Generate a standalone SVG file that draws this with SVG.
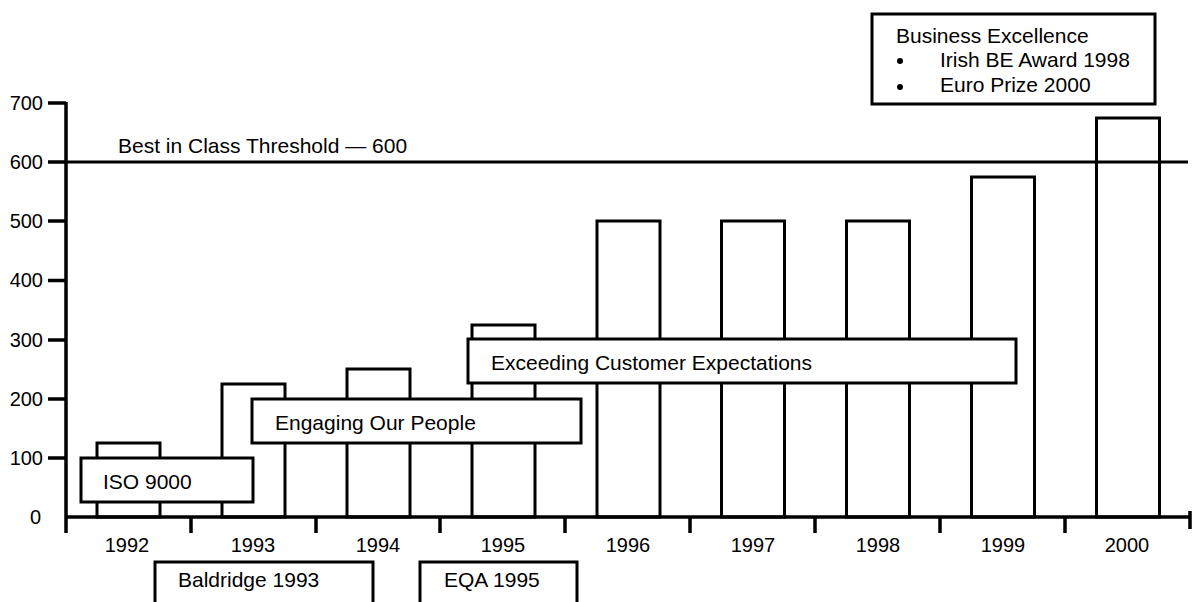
<svg xmlns="http://www.w3.org/2000/svg" width="1192" height="602" viewBox="0 0 1192 602">
<style>
  text { font-family: "Liberation Sans", Arial, sans-serif; fill: #000; }
  .lbl { font-size: 21px; }
  .num { font-size: 20px; }
  .yr { font-size: 20px; text-anchor: middle; }
  .ax { font-size: 20px; text-anchor: end; }
  .bar { fill: #fff; stroke: #000; stroke-width: 3; }
  .box { fill: #fff; stroke: #000; stroke-width: 3; }
  .axis { stroke: #000; stroke-width: 3.5; fill: none; }
  .thr { stroke: #000; stroke-width: 3; }
</style>
<rect width="1192" height="602" fill="#fff"/>
<g id="bars">
  <rect class="bar" x="97" y="443" width="63" height="74"/>
  <rect class="bar" x="222" y="384" width="63" height="133"/>
  <rect class="bar" x="347" y="369" width="63" height="148"/>
  <rect class="bar" x="472" y="325" width="63" height="192"/>
  <rect class="bar" x="597" y="221" width="63" height="296"/>
  <rect class="bar" x="721.5" y="221" width="63" height="296"/>
  <rect class="bar" x="846.5" y="221" width="63" height="296"/>
  <rect class="bar" x="971.5" y="177" width="63" height="340"/>
  <rect class="bar" x="1096.5" y="118" width="63" height="399"/>
</g>
<g id="threshold">
  <line class="thr" x1="66" y1="162" x2="1188" y2="162"/>
  <text class="lbl" x="118" y="153">Best in Class Threshold — 600</text>
</g>
<g id="axes">
  <path class="axis" d="M66 102 V533 M66 517 H1190 M1190 511 V529"/>
  <path class="axis" d="M48 103 H66 M48 162 H66 M48 221 H66 M48 280.5 H66 M48 340 H66 M48 399 H66 M48 458 H66"/>
  <path class="axis" d="M191 517 V533 M316 517 V533 M440 517 V533 M565 517 V533 M690 517 V533 M815 517 V533 M940 517 V533 M1065 517 V533"/>
  <text class="ax" x="43" y="110">700</text>
  <text class="ax" x="43" y="169">600</text>
  <text class="ax" x="43" y="228">500</text>
  <text class="ax" x="43" y="287">400</text>
  <text class="ax" x="43" y="347">300</text>
  <text class="ax" x="43" y="406">200</text>
  <text class="ax" x="43" y="465">100</text>
  <text class="ax" x="41" y="524">0</text>
  <text class="yr" x="127" y="552">1992</text>
  <text class="yr" x="253" y="552">1993</text>
  <text class="yr" x="378" y="552">1994</text>
  <text class="yr" x="503" y="552">1995</text>
  <text class="yr" x="628" y="552">1996</text>
  <text class="yr" x="753" y="552">1997</text>
  <text class="yr" x="878" y="552">1998</text>
  <text class="yr" x="1003" y="552">1999</text>
  <text class="yr" x="1127" y="552">2000</text>
</g>
<g id="iso">
  <rect class="box" x="81" y="458" width="172" height="44"/>
  <text class="lbl" x="103" y="489">ISO 9000</text>
</g>
<g id="engaging">
  <rect class="box" x="252" y="399" width="329" height="44"/>
  <text class="lbl" x="275" y="430">Engaging Our People</text>
</g>
<g id="exceeding">
  <rect class="box" x="468" y="339" width="548" height="44"/>
  <text class="lbl" x="491" y="370">Exceeding Customer Expectations</text>
</g>
<g id="baldridge">
  <rect class="box" x="155" y="562" width="218" height="50"/>
  <text class="lbl" x="178" y="587">Baldridge 1993</text>
</g>
<g id="eqa">
  <rect class="box" x="420" y="562" width="157" height="50"/>
  <text class="lbl" x="444" y="587">EQA 1995</text>
</g>
<g id="business">
  <rect class="box" x="872" y="14" width="283" height="90"/>
  <text class="lbl" x="896" y="43">Business Excellence</text>
  <circle cx="900" cy="61" r="3"/>
  <text class="lbl" x="940" y="67">Irish BE Award 1998</text>
  <circle cx="900" cy="87" r="3"/>
  <text class="lbl" x="940" y="92">Euro Prize 2000</text>
</g>
</svg>
